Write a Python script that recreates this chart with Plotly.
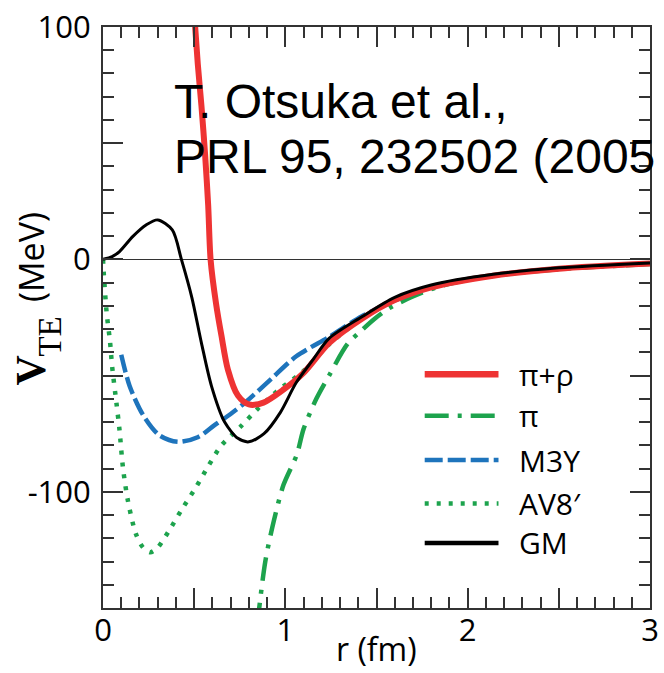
import plotly.graph_objects as go

# ---------------- data ----------------
r_pirho = [0.50, 0.52, 0.54, 0.56, 0.577, 0.59, 0.62, 0.65, 0.685, 0.74, 0.80, 0.88, 0.99, 1.10, 1.24, 1.42, 1.60, 1.80, 2.14, 2.50, 3.00]
v_pirho = [106, 84, 66, 45, 23, 0, -19, -33, -47.4, -58.6, -62.4, -61.6, -56, -48.8, -36, -25.5, -17.5, -12, -7, -4, -1.8]

r_pi = [0.845, 0.89, 0.937, 0.99, 1.063, 1.10, 1.17, 1.24, 1.34, 1.42, 1.49, 1.57, 1.69, 1.85, 2.10, 2.50, 3.00]
v_pi = [-158, -130, -112.5, -97, -84, -73, -60, -50, -36.5, -30.4, -25.5, -21, -16.3, -11.5, -7.5, -4.2, -2]

r_m3y = [0.10, 0.146, 0.22, 0.308, 0.41, 0.523, 0.61, 0.70, 0.78, 0.92, 1.06, 1.243, 1.42, 1.60, 1.80, 2.14, 2.50, 3.00]
v_m3y = [-41, -54.5, -67, -75.6, -78.5, -76.4, -71.4, -66.5, -61.6, -51.6, -41.7, -33.2, -24.5, -17.7, -12, -7, -4, -1.8]

r_av8 = [0, 0.005, 0.02, 0.038, 0.05, 0.074, 0.09, 0.11, 0.137, 0.18, 0.22, 0.26, 0.30, 0.36, 0.433, 0.51, 0.577, 0.65, 0.76, 0.847, 0.95, 1.10, 1.24, 1.42, 1.60, 1.80, 2.14, 2.50, 3.00]
v_av8 = [0, -7, -23, -35, -46, -62, -73, -90, -104, -118, -124, -126, -124, -117, -107.5, -98, -89, -80, -71.5, -64.4, -57, -48, -36.5, -25.5, -17.5, -12, -7, -4, -1.8]

r_gm = [0, 0.05, 0.092, 0.164, 0.236, 0.30, 0.38, 0.43, 0.487, 0.54, 0.595, 0.667, 0.74, 0.80, 0.883, 0.973, 1.06, 1.153, 1.24, 1.42, 1.60, 1.80, 2.14, 2.50, 3.00]
v_gm = [0, 1.2, 3.5, 9.9, 14.8, 17, 12.7, 0, -16.3, -36, -54.5, -70, -77, -78.5, -75, -65.8, -53, -43, -34, -24.7, -16.3, -11, -6.4, -3.6, -1.5]

series_names = ["\u03c0+\u03c1", "\u03c0", "M3Y", "AV8\u2032", "GM"]
x_tickvals = [0, 0.5, 1, 1.5, 2, 2.5, 3]
x_ticktext = ["0", "", "1", "", "2", "", "3"]
y_tickvals = [-150, -100, -50, 0, 50, 100]
y_ticktext = ["", "-100", "", "0", "", "100"]

# ---------------- styles ----------------
RED = "#EE3333"
GREEN = "#1DA34D"
BLUE = "#1E74BC"
BLACK = "#000000"
styles = [
    dict(color=RED, width=6, dash="solid"),
    dict(color=GREEN, width=4.5, dash="24px,9px,4px,9px"),
    dict(color=BLUE, width=4.5, dash="18px,5px"),
    dict(color=GREEN, width=4.5, dash="4px,8px"),
    dict(color=BLACK, width=3, dash="solid"),
]
data = [(r_pirho, v_pirho), (r_pi, v_pi), (r_m3y, v_m3y), (r_av8, v_av8), (r_gm, v_gm)]
order = [3, 1, 2, 0, 4]  # drawing order

fig = go.Figure()
for i in order:
    rx, vy = data[i]
    fig.add_trace(go.Scatter(x=rx, y=vy, mode="lines", name=series_names[i],
                             line=dict(shape="spline", smoothing=0.8, **styles[i]),
                             showlegend=False))

W, H = 664, 673
ML, MR, MT, MB = 103, 5, 19, 65
PW, PH = W - ML - MR, H - MT - MB

def px(x):
    return (x - ML) / PW

def py(y):
    return (H - MB - y) / PH

SANS = "Open Sans"
SERIF = "Liberation Serif"
AXC = "#333333"

fig.update_layout(
    width=W, height=H,
    margin=dict(l=ML, r=MR, t=MT, b=MB, pad=0),
    plot_bgcolor="white", paper_bgcolor="white",
    showlegend=False,
    font=dict(family=SANS, size=31, color="black"),
)
fig.update_xaxes(
    range=[0, 3], tickmode="array", tickvals=x_tickvals, ticktext=x_ticktext,
    showgrid=False, zeroline=False, showline=True, linecolor=AXC, linewidth=2,
    mirror="allticks", ticks="inside", ticklen=20, tickwidth=1.5, tickcolor=AXC,
    ticklabelstandoff=-6, ticklabeloverflow="allow",
    tickfont=dict(family=SANS, size=31, color="black"),
    minor=dict(tickmode="linear", tick0=0, dtick=0.1, ticks="inside", ticklen=11,
               tickwidth=1.5, tickcolor=AXC, showgrid=False),
)
fig.update_yaxes(
    range=[-150, 100], tickmode="array", tickvals=y_tickvals, ticktext=y_ticktext,
    showgrid=False, zeroline=True, zerolinecolor=AXC, zerolinewidth=1.3,
    showline=True, linecolor=AXC, linewidth=2,
    mirror="allticks", ticks="inside", ticklen=20, tickwidth=1.5, tickcolor=AXC,
    ticklabelstandoff=4, ticklabeloverflow="allow",
    tickfont=dict(family=SANS, size=31, color="black"),
    minor=dict(tickmode="linear", tick0=0, dtick=10, ticks="inside", ticklen=11,
               tickwidth=1.5, tickcolor=AXC, showgrid=False),
)

annos = []
# citation text
annos.append(dict(text="T. Otsuka et al.,", x=px(173), y=py(95), xref="paper", yref="paper",
                  xanchor="left", yanchor="middle", showarrow=False,
                  font=dict(family="Liberation Sans", size=48, color="black")))
annos.append(dict(text="PRL 95, 232502 (2005", x=px(173), y=py(150), xref="paper", yref="paper",
                  xanchor="left", yanchor="middle", showarrow=False,
                  font=dict(family="Liberation Sans", size=48, color="black")))
# x axis title
annos.append(dict(text="r (fm)", x=px(381), y=py(649), xref="paper", yref="paper",
                  xanchor="center", yanchor="middle", showarrow=False,
                  font=dict(family=SANS, size=32, color="black")))
# y axis title, in three rotated pieces: V, TE (subscript), (MeV)
annos.append(dict(text="<b>V</b>", x=px(30), y=py(367), xref="paper", yref="paper",
                  textangle=-90, xanchor="center", yanchor="middle", showarrow=False,
                  font=dict(family=SERIF, size=42, color="black")))
annos.append(dict(text="TE", x=px(49), y=py(333), xref="paper", yref="paper",
                  textangle=-90, xanchor="center", yanchor="middle", showarrow=False,
                  font=dict(family=SERIF, size=33, color="black")))
annos.append(dict(text="(MeV)", x=px(30), y=py(252), xref="paper", yref="paper",
                  textangle=-90, xanchor="center", yanchor="middle", showarrow=False,
                  font=dict(family=SANS, size=34, color="black")))

# legend (manual keys)
rows_y = [371, 413, 458, 502, 542]
shapes = []
for i, yy in enumerate(rows_y):
    st = styles[i]
    lw = 6.5 if i == 0 else 4.5
    shapes.append(dict(type="line", xref="paper", yref="paper",
                       x0=px(430), x1=px(505), y0=py(yy), y1=py(yy),
                       line=dict(color=st["color"], width=lw, dash=st["dash"])))
    annos.append(dict(text=series_names[i], x=px(524), y=py(yy), xref="paper", yref="paper",
                      xanchor="left", yanchor="middle", showarrow=False,
                      font=dict(family=SANS, size=30, color="black")))

fig.update_layout(annotations=annos, shapes=shapes)
fig.write_html("out.html")
